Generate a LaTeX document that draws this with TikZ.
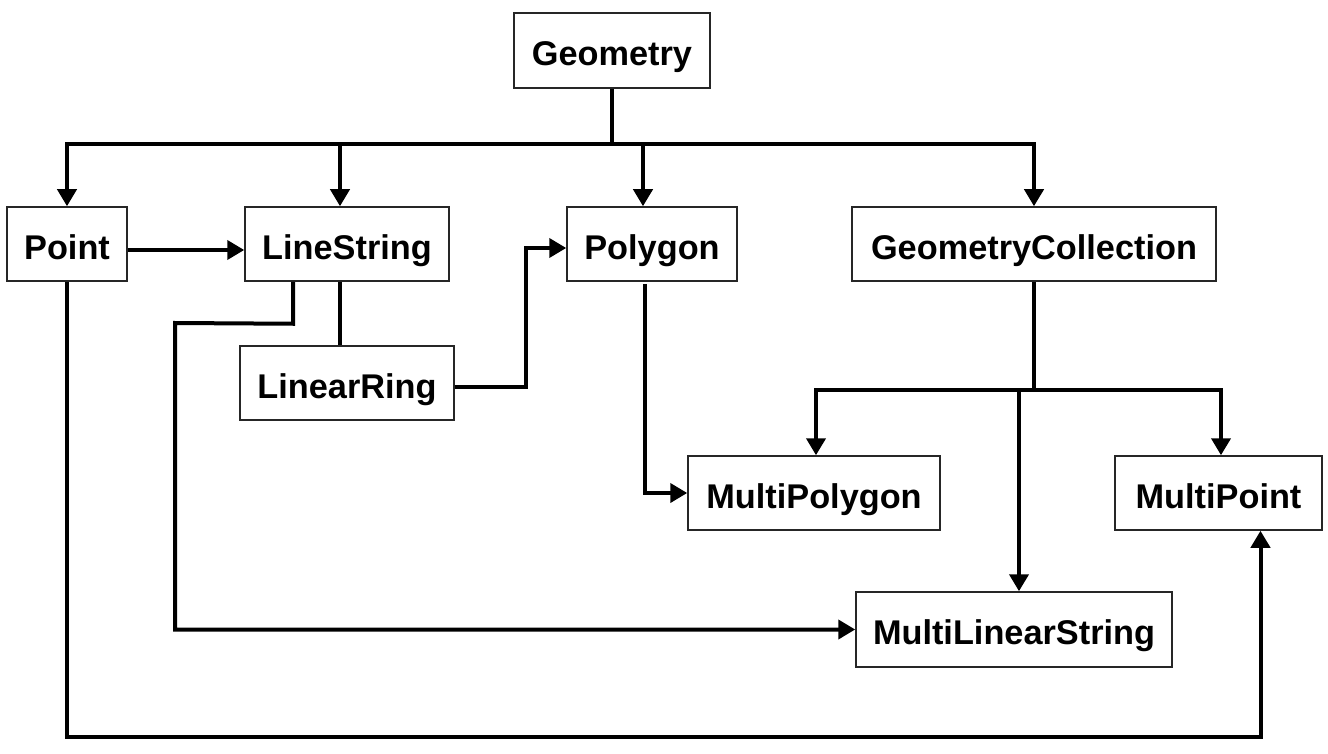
\documentclass[tikz,border=0pt]{standalone}
\usepackage{fontspec}
\setmainfont{Liberation Sans}
\usetikzlibrary{arrows.meta}
\tikzset{
  box/.style={draw=black!85, line width=1.5pt, fill=white, inner sep=0pt,
    text height=30pt, text depth=0pt,
    font=\fontsize{34.3}{38}\selectfont\bfseries, text=black},
  conn/.style={line width=4pt, line join=miter},
  arr/.style={conn, -{Triangle[length=17pt,width=19pt]}},
}
\begin{document}
\begin{tikzpicture}[x=1pt,y=-1pt]
\useasboundingbox (0,0) rectangle (1328,754);
\fill[white] (0,0) rectangle (1328,754);
% nodes
\node[box, minimum width=196pt, minimum height=75pt] (geo)   at (612,50.5)  {Geometry};
\node[box, minimum width=120pt, minimum height=74pt] (point) at (67,244)    {Point};
\node[box, minimum width=204pt, minimum height=74pt] (ls)    at (347,244)   {LineString};
\node[box, minimum width=170pt, minimum height=74pt] (poly)  at (652,244)   {Polygon};
\node[box, minimum width=364pt, minimum height=74pt] (gc)    at (1034,244)  {GeometryCollection};
\node[box, minimum width=214pt, minimum height=74pt] (lr)    at (347,383)   {LinearRing};
\node[box, minimum width=252pt, minimum height=74pt] (mpoly) at (814,493)   {MultiPolygon};
\node[box, minimum width=207pt, minimum height=74pt] (mpt)   at (1218.5,493) {MultiPoint};
\node[box, minimum width=316pt, minimum height=75pt] (mls)   at (1014,629.5) {MultiLinearString};
% Geometry bus
\draw[conn] (geo.south) -- ++(0,55) coordinate (bus);
\draw[arr] (bus) -| (point.north);
\draw[arr] (bus) -| ([xshift=-7pt]ls.north);
\draw[arr] (bus) -| ([xshift=-9pt]poly.north);
\draw[arr] (bus) -| (gc.north);
% Point -> LineString
\draw[arr] ([yshift=-6pt]point.east) -- ([yshift=-6pt]ls.west);
% LineString -> MultiLinearString
\draw[arr] ([xshift=-54pt]ls.south) -- ++(0,42) coordinate (lsb) -- (175,323) coordinate (lsc) -- (lsc |- mls.west) -- (mls.west);
% LineString -- LinearRing
\draw[conn] ([xshift=-7pt]ls.south) -- ([xshift=-7pt]ls.south |- lr.north);
% LinearRing -> Polygon
\draw[arr] ([yshift=-4pt]lr.east) -- ++(71,0) |- ([yshift=-4pt]poly.west);
% Polygon -> MultiPolygon
\draw[arr] ([xshift=-7pt,yshift=-2pt]poly.south) |- (mpoly.west);
% GeometryCollection bus
\draw[conn] (gc.south) -- ++(0,108) coordinate (gbus);
\draw[arr] (gbus) -| ([xshift=2pt]mpoly.north);
\draw[arr] (gbus) -| ([xshift=2.5pt]mpt.north);
\draw[arr] ([xshift=-15pt]gbus) -- ([xshift=5pt]mls.north);
% Point -> MultiPoint
\draw[arr] (point.south) -- ++(0,455) -| ([xshift=42pt]mpt.south);
\end{tikzpicture}
\end{document}
